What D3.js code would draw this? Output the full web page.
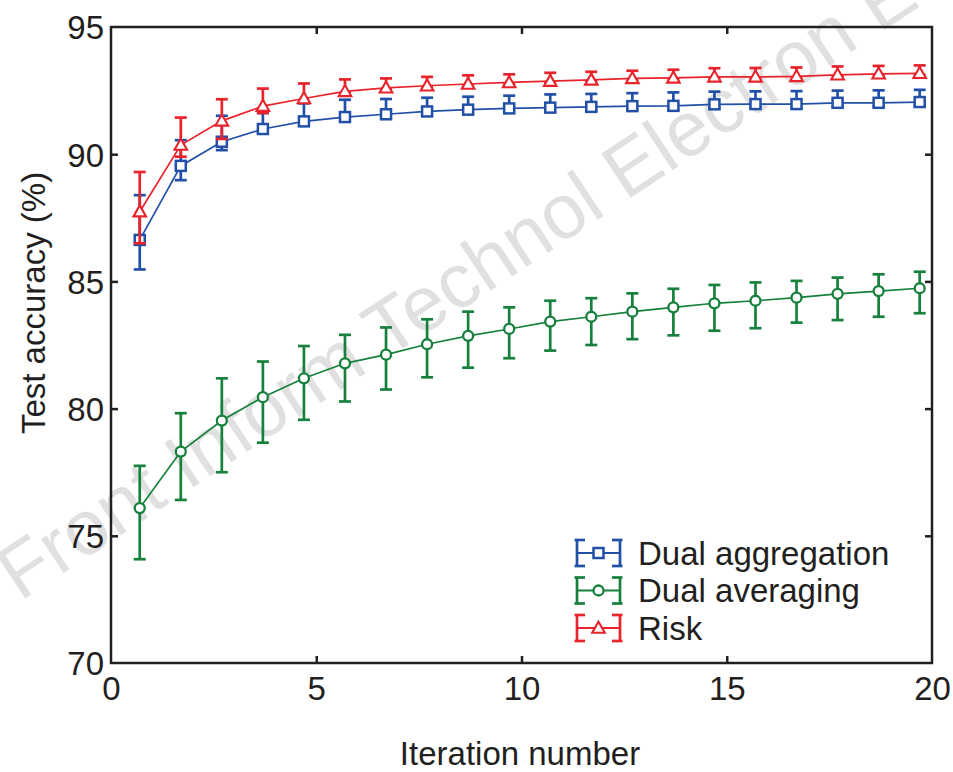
<!DOCTYPE html>
<html>
<head>
<meta charset="utf-8">
<script src="https://cdn.jsdelivr.net/npm/d3@7"></script>
<style>
  html, body { margin: 0; padding: 0; background: #fff; }
  svg { display: block; }
  text { font-family: "Liberation Sans", Arial, Helvetica, sans-serif; fill: #231f20; }
</style>
</head>
<body>
<svg id="chart" width="953" height="772"></svg>
<script>
// ---------------- data ----------------
const iterX = [0.7,1.7,2.7,3.7,4.7,5.7,6.7,7.7,8.7,9.7,10.7,11.7,12.7,13.7,14.7,15.7,16.7,17.7,18.7,19.7];

const aggMean = [86.63,89.54,90.49,90.99,91.29,91.46,91.57,91.68,91.75,91.80,91.83,91.86,91.89,91.90,91.96,91.97,91.97,92.02,92.02,92.05];
const aggHigh = [88.39,90.55,91.51,91.62,92.00,92.14,92.17,92.22,92.26,92.30,92.35,92.37,92.40,92.43,92.46,92.47,92.48,92.50,92.51,92.53];
const aggLow  = [85.47,88.98,90.16,90.82,91.12,91.30,91.42,91.53,91.60,91.65,91.68,91.71,91.74,91.75,91.81,91.82,91.82,91.87,91.87,91.90];

const avgMean = [76.09,78.31,79.53,80.45,81.19,81.78,82.12,82.53,82.86,83.13,83.42,83.61,83.81,83.98,84.14,84.24,84.36,84.51,84.62,84.73];
const avgHigh = [77.75,79.82,81.19,81.85,82.46,82.90,83.19,83.51,83.81,83.98,84.24,84.34,84.53,84.71,84.86,84.96,85.02,85.15,85.28,85.38];
const avgLow  = [74.08,76.41,77.50,78.66,79.56,80.28,80.75,81.23,81.61,81.98,82.28,82.50,82.73,82.88,83.06,83.16,83.38,83.48,83.61,83.75];

const riskMean = [87.74,90.36,91.31,91.89,92.19,92.47,92.61,92.69,92.76,92.82,92.87,92.92,92.98,93.00,93.04,93.04,93.06,93.12,93.16,93.18];
const riskHigh = [89.30,91.44,92.16,92.58,92.78,92.94,92.98,93.04,93.10,93.14,93.20,93.24,93.28,93.32,93.38,93.39,93.41,93.45,93.47,93.49];
const riskLow  = [86.50,89.90,90.60,91.62,92.02,92.40,92.55,92.63,92.70,92.76,92.81,92.86,92.92,92.94,92.98,92.98,93.00,93.06,93.10,93.12];

const xTicks = [0,5,10,15,20];
const yTicks = [70,75,80,85,90,95];
const seriesNames = ["Dual aggregation","Dual averaging","Risk"];
const seriesColors = ["#2250a8","#16803c","#e8232b"];
const seriesShapes = ["square","circle","triangle"];
const xTitle = "Iteration number";
const yTitle = "Test accuracy (%)";
const watermark = "Front Inform Technol Electron E";

// ---------------- chart ----------------
const svg = d3.select("#chart");
const L = 111, R = 932, T = 27, B = 663;
const x = d3.scaleLinear().domain([0,20]).range([L,R]);
const y = d3.scaleLinear().domain([70,95]).range([B,T]);
const axisColor = "#231f20";
const FS = 33;

// watermark
svg.append("text")
  .attr("transform", "translate(20,602) rotate(-33.5)")
  .attr("font-size", 77)
  .style("fill", "#e0e0e0")
  .text(watermark);

// axes with inward ticks
const tickLen = 7;
const gB = svg.append("g").attr("transform", `translate(0,${B})`)
  .call(d3.axisBottom(x).tickValues(xTicks).tickSizeInner(-tickLen).tickSizeOuter(0).tickPadding(14).tickFormat(d3.format("d")));
const gT = svg.append("g").attr("transform", `translate(0,${T})`)
  .call(d3.axisTop(x).tickValues(xTicks.slice(1,-1)).tickSizeInner(-tickLen).tickSizeOuter(0).tickFormat(""));
const gL = svg.append("g").attr("transform", `translate(${L},0)`)
  .call(d3.axisLeft(y).tickValues(yTicks).tickSizeInner(-tickLen).tickSizeOuter(0).tickPadding(7).tickFormat(d3.format("d")));
const gR = svg.append("g").attr("transform", `translate(${R},0)`)
  .call(d3.axisRight(y).tickValues(yTicks.slice(1,-1)).tickSizeInner(-tickLen).tickSizeOuter(0).tickFormat(""));

[gB,gT,gL,gR].forEach(g => {
  g.select(".domain").remove();
  g.selectAll(".tick line").attr("stroke", axisColor).attr("stroke-width", 2.5);
  g.selectAll(".tick text").attr("font-size", FS).style("fill", axisColor).attr("font-family", "Liberation Sans, Arial, sans-serif");
});
gB.selectAll(".tick line").filter(d => d === 0 || d === 20).remove();
gL.selectAll(".tick line").filter(d => d === 70 || d === 95).remove();
gL.selectAll(".tick text").attr("dy", "0.36em");
gB.selectAll(".tick text").attr("dy", "0.70em");

// frame
svg.append("rect")
  .attr("x", L).attr("y", T).attr("width", R - L).attr("height", B - T)
  .attr("fill", "none").attr("stroke", axisColor).attr("stroke-width", 2.5);

// titles
svg.append("text").attr("x", 520).attr("y", 765)
  .attr("text-anchor", "middle").attr("font-size", FS).text(xTitle);
svg.append("text").attr("transform", `translate(45,303) rotate(-90)`)
  .attr("text-anchor", "middle").attr("font-size", FS).text(yTitle);

// series
const series = [
  {mean: aggMean, hi: aggHigh, lo: aggLow},
  {mean: avgMean, hi: avgHigh, lo: avgLow},
  {mean: riskMean, hi: riskHigh, lo: riskLow}
];

function drawMarker(g, shape, cx, cy, color) {
  if (shape === "square") {
    g.append("rect").attr("x", cx - 5).attr("y", cy - 5).attr("width", 10).attr("height", 10)
      .attr("fill", "#fff").attr("stroke", color).attr("stroke-width", 2.5);
  } else if (shape === "circle") {
    g.append("circle").attr("cx", cx).attr("cy", cy).attr("r", 5)
      .attr("fill", "#fff").attr("stroke", color).attr("stroke-width", 2.3);
  } else {
    const s = 6.3;
    g.append("path").attr("d", `M${cx},${cy - s}L${cx + s},${cy + s * 0.75}L${cx - s},${cy + s * 0.75}Z`)
      .attr("fill", "#fff").attr("stroke", color).attr("stroke-width", 2.1);
  }
}

const line = d3.line().x(d => x(d[0])).y(d => y(d[1]));
const capW = 6;

series.forEach((s, k) => {
  const color = seriesColors[k];
  const g = svg.append("g");
  const pts = iterX.map((xv, i) => [xv, s.mean[i]]);
  g.append("path").datum(pts).attr("d", line)
    .attr("fill", "none").attr("stroke", color).attr("stroke-width", 1.7);
  iterX.forEach((xv, i) => {
    const cx = x(xv), y1 = y(s.hi[i]), y2 = y(s.lo[i]);
    g.append("line").attr("x1", cx).attr("x2", cx).attr("y1", y1).attr("y2", y2)
      .attr("stroke", color).attr("stroke-width", 2.7);
    g.append("line").attr("x1", cx - capW).attr("x2", cx + capW).attr("y1", y1).attr("y2", y1)
      .attr("stroke", color).attr("stroke-width", 2.7);
    g.append("line").attr("x1", cx - capW).attr("x2", cx + capW).attr("y1", y2).attr("y2", y2)
      .attr("stroke", color).attr("stroke-width", 2.7);
  });
  iterX.forEach((xv, i) => drawMarker(g, seriesShapes[k], x(xv), y(s.mean[i]), color));
});

// legend
const legY0 = 553, legDy = 37.5;
seriesNames.forEach((name, k) => {
  const color = seriesColors[k];
  const cy = legY0 + k * legDy;
  const g = svg.append("g");
  const xl = 577, xr = 620, h = 13;
  g.append("line").attr("x1", xl).attr("x2", xr).attr("y1", cy).attr("y2", cy).attr("stroke", color).attr("stroke-width", 1.8);
  [xl, xr].forEach((xx, j) => {
    g.append("line").attr("x1", xx).attr("x2", xx).attr("y1", cy - h).attr("y2", cy + h).attr("stroke", color).attr("stroke-width", 2.7);
    const dir = j === 0 ? 1 : -1;
    [cy - h, cy + h].forEach(yy => {
      g.append("line").attr("x1", xx - 2.5 * dir).attr("x2", xx + 8 * dir).attr("y1", yy).attr("y2", yy)
        .attr("stroke", color).attr("stroke-width", 2.7);
    });
  });
  drawMarker(g, seriesShapes[k], (xl + xr) / 2, cy, color);
  g.append("text").attr("x", 638).attr("y", cy).attr("dy", "0.36em").attr("font-size", FS).text(name);
});
</script>
</body>
</html>
